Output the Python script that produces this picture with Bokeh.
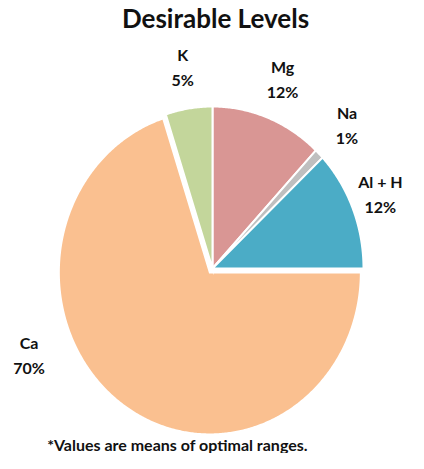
import numpy as np
from bokeh.plotting import figure
from bokeh.models import Range1d, ColumnDataSource
from bokeh.core.properties import value
from bokeh.embed import file_html
from bokeh.resources import INLINE

# ---- data ----
elements = ["Mg", "Na", "Al + H", "Ca", "K"]
shares = [12, 1, 12, 70, 5]
pct_labels = ["12%", "1%", "12%", "70%", "5%"]
title_text = "Desirable Levels"
footnote_text = "*Values are means of optimal ranges."

# ---- styling / placement ----
colors = ["#D99694", "#BFBFBF", "#4BACC6", "#FAC090", "#C3D69B"]
explode = {"Ca": 0.03}
label_angle_override = {"Ca": 247.0}
label_dx = {"Al + H": -9}
FONT = "Lato"
W, H = 408, 453
CX, CY = 212, 268     # pie centre in frame pixels (from top-left)
SX, SY = 151, 162     # pixels per unit radius (x, y)


def px(x, y):
    return (x - CX) / SX, (CY - y) / SY


p = figure(width=W, height=H, output_backend="svg", toolbar_location=None,
           x_range=Range1d(-CX / SX, (W - CX) / SX),
           y_range=Range1d(-(H - CY) / SY, CY / SY),
           min_border=0, outline_line_color=None)
p.axis.visible = False
p.grid.visible = False
p.background_fill_color = "white"
p.border_fill_color = "white"

total = float(sum(shares))
start = 0.0
xs, ys = [], []
lx, ly = [], []
for name, s in zip(elements, shares):
    span = 360.0 * s / total
    end = start + span
    mid = np.radians(start + span / 2)
    off = explode.get(name, 0.0)
    ox, oy = off * np.sin(mid), off * np.cos(mid)
    th = np.radians(np.linspace(start, end, max(int(span * 2), 4)))
    xs.append(list(np.concatenate([[ox], ox + np.sin(th)])))
    ys.append(list(np.concatenate([[oy], oy + np.cos(th)])))
    la = np.radians(label_angle_override.get(name, start + span / 2))
    r = 1.30 if name in label_angle_override else 1.26
    lx.append(ox + r * np.sin(la) + label_dx.get(name, 0) / SX)
    ly.append(oy + r * np.cos(la))
    start = end

src = ColumnDataSource(dict(xs=xs, ys=ys, color=colors))
p.patches("xs", "ys", source=src, fill_color="color", line_color="white",
          line_width=2, line_join="miter")

lsrc = ColumnDataSource(dict(x=lx, y=ly, name=elements, pct=pct_labels))
p.text("x", "y", text="name", source=lsrc, text_font=value(FONT),
       text_font_style="bold", text_font_size="16px", text_color="#111111",
       text_align="center", text_baseline="middle", y_offset=-12)
p.text("x", "y", text="pct", source=lsrc, text_font=value(FONT),
       text_font_style="bold", text_font_size="16px", text_color="#111111",
       text_align="center", text_baseline="middle", y_offset=13)

tx, ty = px(215, 17)
p.text([tx], [ty], text=[title_text], text_font=value(FONT),
       text_font_style="bold", text_font_size="26px", text_color="#111111",
       text_align="center", text_baseline="middle")
fx, fy = px(177, 444)
p.text([fx], [fy], text=[footnote_text], text_font=value(FONT),
       text_font_style="bold", text_font_size="16px", text_color="#111111",
       text_align="center", text_baseline="middle")

open("out.html", "w").write(file_html(p, INLINE))
